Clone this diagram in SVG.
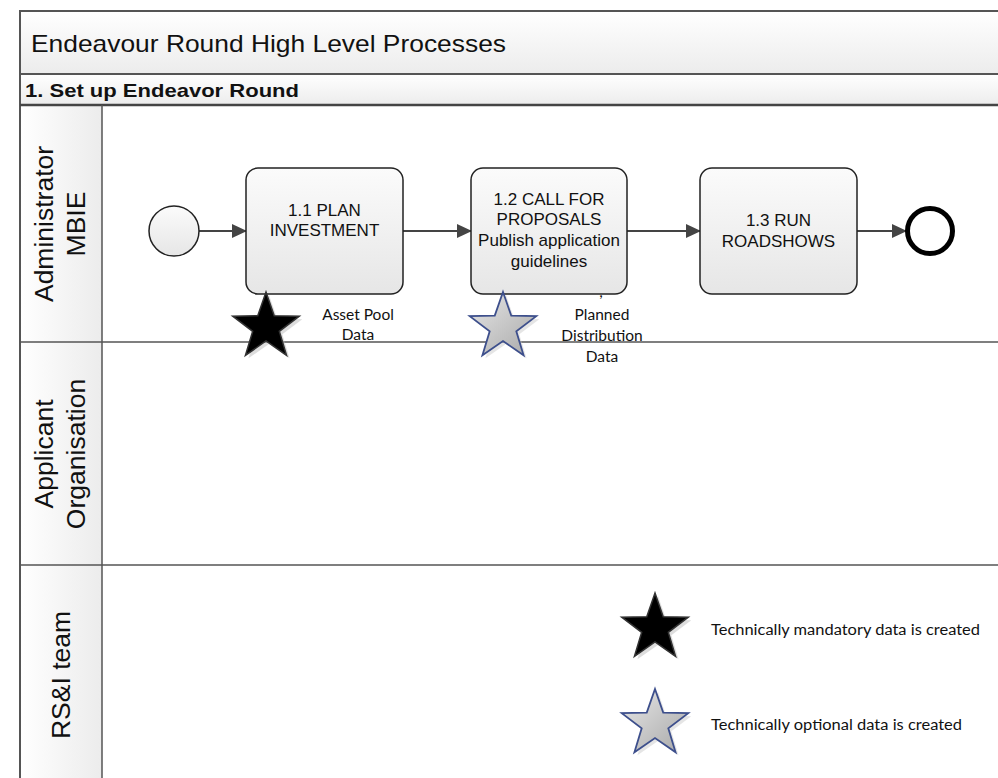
<svg xmlns="http://www.w3.org/2000/svg" width="998" height="778" viewBox="0 0 998 778">
<style>
.frame{stroke:#555;stroke-width:2;fill:none}
.lane{stroke:#555;stroke-width:1.5;fill:none}
.task{fill:url(#gTask);stroke:#222;stroke-width:1.5}
.tt{font-family:"Liberation Sans",Arial,sans-serif;font-size:17px;fill:#111;text-anchor:middle}
.lt{font-family:"Liberation Sans",Arial,sans-serif;font-size:26.5px;fill:#111;text-anchor:middle}
.note{font-family:Lato,"Open Sans",sans-serif;font-size:15.5px;fill:#111;text-anchor:middle}
.leg{font-family:Lato,"Open Sans",sans-serif;font-size:15.5px;fill:#111}
.conn{stroke:#444;stroke-width:2;fill:none;marker-end:url(#arr)}
</style>
<defs>
<linearGradient id="gHead" x1="0" y1="0" x2="0" y2="1"><stop offset="0" stop-color="#ffffff"/><stop offset="1" stop-color="#ececec"/></linearGradient>
<linearGradient id="gLane" x1="0" y1="0" x2="1" y2="0"><stop offset="0" stop-color="#ffffff"/><stop offset="1" stop-color="#ececec"/></linearGradient>
<linearGradient id="gTask" x1="0" y1="0" x2="0" y2="1"><stop offset="0" stop-color="#fbfbfb"/><stop offset="1" stop-color="#e6e6e6"/></linearGradient>
<linearGradient id="gGray" x1="0" y1="0" x2="1" y2="1"><stop offset="0" stop-color="#e8e8e8"/><stop offset="1" stop-color="#a8a8a8"/></linearGradient>
<marker id="arr" viewBox="0 0 15 14" refX="14" refY="7" markerWidth="15" markerHeight="14" markerUnits="userSpaceOnUse" orient="auto"><path d="M0,0 L15,7 L0,14 Z" fill="#444"/></marker>
<path id="star" d="M0,-35 L8.23,-11.33 L33.29,-10.82 L13.31,4.33 L20.57,28.32 L0,14 L-20.57,28.32 L-13.31,4.33 L-33.29,-10.82 L-8.23,-11.33 Z"/>
</defs>
<rect x="0" y="0" width="998" height="778" fill="#ffffff"/>
<g id="pool">
<rect x="20" y="11" width="990" height="63" fill="url(#gHead)"/>
<rect x="20" y="74" width="990" height="31" fill="url(#gHead)"/>
<rect x="20" y="105" width="82" height="680" fill="url(#gLane)"/>
<path class="frame" d="M998,11 H20 V785"/>
<path class="frame" d="M20,74 H998"/>
<path d="M20,105 H998" stroke="#444" stroke-width="2.5"/>
<path class="lane" d="M102,105 V785"/>
<path class="lane" d="M20,342 H998 M20,565 H998"/>
<text x="31" y="52" font-family="Liberation Sans,Arial,sans-serif" font-size="24" fill="#111" textLength="475" lengthAdjust="spacingAndGlyphs">Endeavour Round High Level Processes</text>
<text x="25" y="97" font-family="Liberation Sans,Arial,sans-serif" font-size="19" font-weight="bold" fill="#111" textLength="274" lengthAdjust="spacingAndGlyphs">1. Set up Endeavor Round</text>
</g>
<g id="lane-admin"><text class="lt" transform="translate(53,224) rotate(-90)">Administrator</text><text class="lt" transform="translate(85,224) rotate(-90)">MBIE</text></g>
<g id="lane-applicant"><text class="lt" transform="translate(53,454) rotate(-90)">Applicant</text><text class="lt" transform="translate(85,454) rotate(-90)">Organisation</text></g>
<g id="lane-rsi"><text class="lt" transform="translate(70,675) rotate(-90)">RS&amp;I team</text></g>
<g id="connectors">
<path class="conn" d="M199,231 H246"/>
<path class="conn" d="M403,231 H471"/>
<path class="conn" d="M627,231 H700"/>
<path class="conn" d="M857,231 H906"/>
</g>
<g id="start"><circle cx="174" cy="231" r="25" fill="url(#gTask)" stroke="#222" stroke-width="1.5"/></g>
<g id="task11"><rect class="task" x="246" y="168" width="157" height="126" rx="12"/><text class="tt" x="324.5" y="216">1.1 PLAN</text><text class="tt" x="324.5" y="236">INVESTMENT</text></g>
<g id="task12"><rect class="task" x="471" y="168" width="156" height="126" rx="12"/><text class="tt" x="549" y="205">1.2 CALL FOR</text><text class="tt" x="549" y="225">PROPOSALS</text><text class="tt" x="549" y="246">Publish application</text><text class="tt" x="549" y="267">guidelines</text></g>
<g id="task13"><rect class="task" x="700" y="168" width="157" height="126" rx="12"/><text class="tt" x="778.5" y="226">1.3 RUN</text><text class="tt" x="778.5" y="247">ROADSHOWS</text></g>
<g id="end"><circle cx="930" cy="231" r="22.5" fill="#fff" stroke="#000" stroke-width="5"/></g>
<g id="star-asset">
<use href="#star" transform="translate(269,330)" fill="#bbb" opacity="0.5"/>
<use href="#star" transform="translate(266,327)" fill="#000" stroke="#333" stroke-width="1.5"/>
<text class="note" x="358" y="320">Asset Pool</text><text class="note" x="358" y="340">Data</text>
</g>
<g id="star-planned">
<use href="#star" transform="translate(506,330)" fill="#ccc" opacity="0.5"/>
<use href="#star" transform="translate(503,327)" fill="url(#gGray)" stroke="#3d4f8c" stroke-width="1.8"/>
<text class="note" x="601" y="297">,</text>
<text class="note" x="602" y="320">Planned</text><text class="note" x="602" y="341">Distribution</text><text class="note" x="602" y="362">Data</text>
</g>
<g id="legend">
<use href="#star" transform="translate(658,631)" fill="#bbb" opacity="0.5"/>
<use href="#star" transform="translate(655,628)" fill="#000" stroke="#333" stroke-width="1.5"/>
<text class="leg" x="711" y="635" textLength="269" lengthAdjust="spacingAndGlyphs">Technically mandatory data is created</text>
<use href="#star" transform="translate(658,727)" fill="#ccc" opacity="0.5"/>
<use href="#star" transform="translate(655,724)" fill="url(#gGray)" stroke="#3d4f8c" stroke-width="1.8"/>
<text class="leg" x="711" y="730" textLength="251" lengthAdjust="spacingAndGlyphs">Technically optional data is created</text>
</g>
</svg>
